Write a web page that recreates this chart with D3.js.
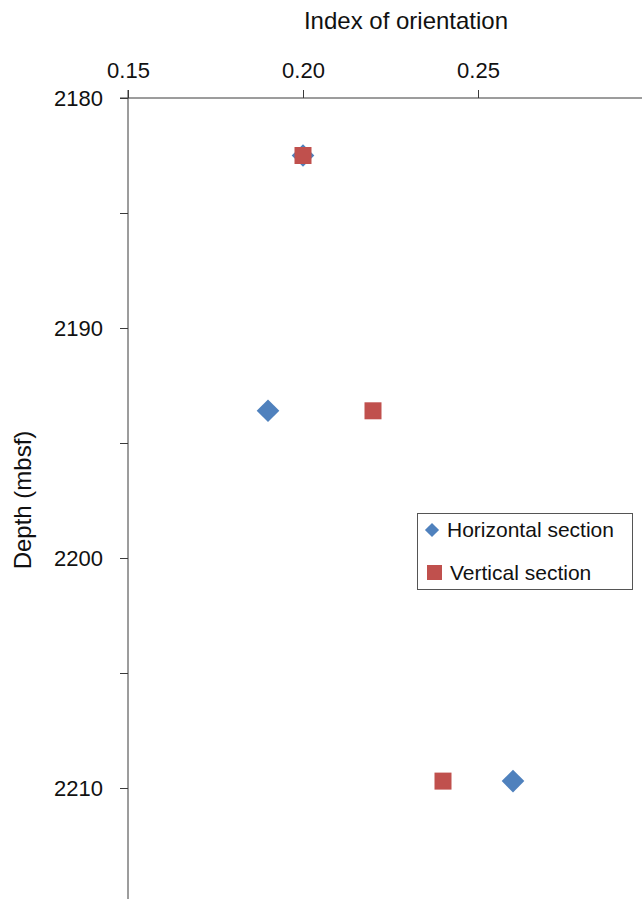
<!DOCTYPE html>
<html>
<head>
<meta charset="utf-8">
<script src="https://cdn.jsdelivr.net/npm/d3@7"></script>
<style>
  html, body { margin: 0; padding: 0; background: #fff; }
  svg { display: block; font-family: "Liberation Sans", Arial, Helvetica, sans-serif; }
</style>
</head>
<body>
<svg id="chart" width="642" height="899"></svg>
<script>
// Index of orientation versus depth, two section orientations
const seriesNames = ["Horizontal section", "Vertical section"];
const depths = [2182.5, 2193.6, 2209.7];
const horizontalIndex = [0.20, 0.19, 0.26];
const verticalIndex = [0.20, 0.22, 0.24];
const xTickValues = [0.15, 0.20, 0.25, 0.30];
const xLabelled = [0.15, 0.20, 0.25];
const yMajorTicks = [2180, 2190, 2200, 2210];
const yAllTicks = [2180, 2185, 2190, 2195, 2200, 2205, 2210, 2215];

const svg = d3.select("#chart");
const axisColor = "#3a3a3a";
const blue = "#4F81BD";
const red = "#C0504D";

const x = d3.scaleLinear().domain([0.15, 0.30]).range([128, 653]);
const y = d3.scaleLinear().domain([2180, 2215]).range([98, 903]);

// Top x axis
const xAxis = d3.axisTop(x)
  .tickValues(xTickValues)
  .tickFormat(d => xLabelled.some(v => Math.abs(v - d) < 1e-9) ? d3.format(".2f")(d) : "")
  .tickSizeInner(8)
  .tickSizeOuter(0)
  .tickPadding(12);
const gx = svg.append("g").attr("transform", `translate(0,${y(2180)})`).call(xAxis);
gx.select(".domain").remove();
gx.append("line").attr("x1", 120).attr("x2", 642).attr("y1", 0).attr("y2", 0)
  .attr("stroke", axisColor).attr("stroke-width", 1);
gx.selectAll(".tick line").attr("stroke", axisColor);
gx.selectAll(".tick text").attr("fill", "#111").style("font-size", "22px");

// Left y axis, minor ticks every 5 m
const yAxis = d3.axisLeft(y)
  .tickValues(yAllTicks)
  .tickFormat(d => yMajorTicks.includes(d) ? d3.format("d")(d) : "")
  .tickSizeInner(8)
  .tickSizeOuter(0)
  .tickPadding(17);
const gy = svg.append("g").attr("transform", `translate(${x(0.15)},0)`).call(yAxis);
gy.select(".domain").remove();
gy.append("line").attr("x1", 0).attr("x2", 0).attr("y1", 90).attr("y2", 899)
  .attr("stroke", axisColor).attr("stroke-width", 1);
gy.selectAll(".tick line").attr("stroke", axisColor);
gy.selectAll(".tick text").attr("fill", "#111").style("font-size", "22px");

// Axis titles
svg.append("text").attr("x", 406).attr("y", 29).attr("text-anchor", "middle")
  .style("font-size", "24px").attr("fill", "#111").text("Index of orientation");
svg.append("text")
  .attr("transform", `translate(31,${500}) rotate(-90)`)
  .attr("text-anchor", "middle")
  .style("font-size", "24px").attr("fill", "#111").text("Depth (mbsf)");

// Markers
const diamond = d3.symbol().type(d3.symbolSquare).size(16 * 16);
const hData = depths.map((d, i) => ({ depth: d, value: horizontalIndex[i] }));
const vData = depths.map((d, i) => ({ depth: d, value: verticalIndex[i] }));

svg.append("g").selectAll("path").data(hData).join("path")
  .attr("d", diamond)
  .attr("transform", d => `translate(${x(d.value)},${y(d.depth)}) rotate(45)`)
  .attr("fill", blue);

const sq = 17;
svg.append("g").selectAll("rect").data(vData).join("rect")
  .attr("x", d => x(d.value) - sq / 2)
  .attr("y", d => y(d.depth) - sq / 2)
  .attr("width", sq).attr("height", sq)
  .attr("fill", red);

// Legend
const lg = svg.append("g");
lg.append("rect").attr("x", 417.5).attr("y", 513.5).attr("width", 215).attr("height", 76)
  .attr("fill", "#fff").attr("stroke", "#555").attr("stroke-width", 1);
lg.append("path").attr("d", d3.symbol().type(d3.symbolSquare).size(100))
  .attr("transform", "translate(432,530) rotate(45)").attr("fill", blue);
lg.append("rect").attr("x", 427).attr("y", 565).attr("width", 15).attr("height", 15).attr("fill", red);
lg.append("text").attr("x", 447).attr("y", 537).style("font-size", "21px").attr("fill", "#111").text(seriesNames[0]);
lg.append("text").attr("x", 450).attr("y", 580).style("font-size", "21px").attr("fill", "#111").text(seriesNames[1]);
</script>
</body>
</html>
